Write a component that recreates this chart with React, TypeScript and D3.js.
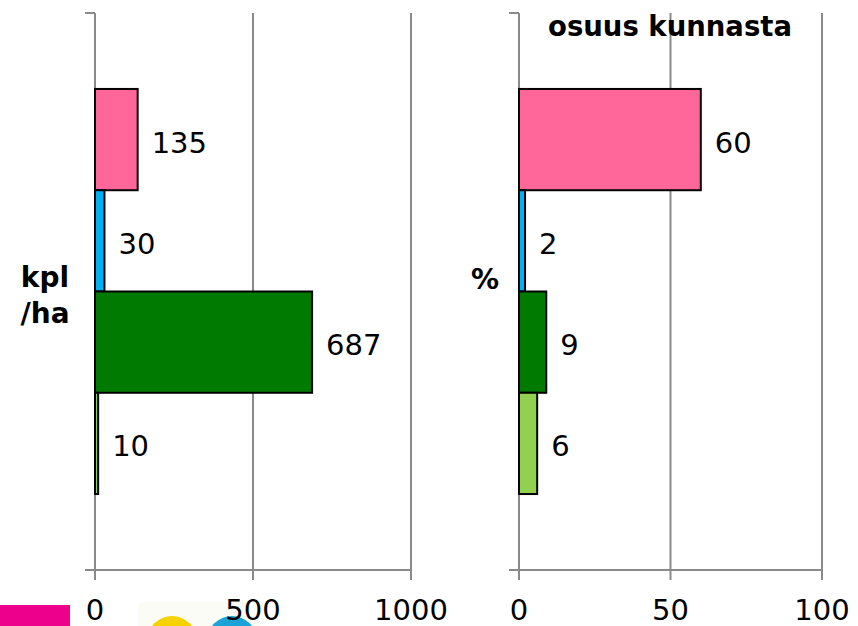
import * as d3 from 'd3';

const series = ['pink', 'blue', 'green', 'lightgreen'];
const seriesColors = ['#ff6699', '#00b0f0', '#007a00', '#92d050'];
const perHectare = [135, 30, 687, 10];
const shareOfMunicipality = [60, 2, 9, 6];
const perHectareTicks = [0, 500, 1000];
const shareTicks = [0, 50, 100];

const W = 858;
const H = 626;
const TOP = 13;
const BOTTOM = 570;
const AXIS = '#8a8a8a';
const FONT = '"DejaVu Sans", Verdana, sans-serif';

const yBand = d3.scaleBand<string>().domain(series).range([TOP, BOTTOM]).paddingInner(0).paddingOuter(0.75);

interface PanelProps {
  values: number[];
  ticks: number[];
  domain: [number, number];
  x0: number;
  x1: number;
}

function Panel({ values, ticks, domain, x0, x1 }: PanelProps) {
  const x = d3.scaleLinear().domain(domain).range([x0, x1]);
  return (
    <g>
      {/* gridlines */}
      {ticks.slice(1).map(t => (
        <line key={'g' + t} x1={x(t)} x2={x(t)} y1={TOP} y2={BOTTOM} stroke={AXIS} strokeWidth={2} />
      ))}
      {/* category axis */}
      <line x1={x0} x2={x0} y1={TOP} y2={BOTTOM} stroke={AXIS} strokeWidth={2} />
      <line x1={x0 - 10} x2={x0} y1={TOP} y2={TOP} stroke={AXIS} strokeWidth={2} />
      {/* value axis */}
      <line x1={x0 - 10} x2={x1} y1={BOTTOM} y2={BOTTOM} stroke={AXIS} strokeWidth={2} />
      {ticks.map(t => (
        <g key={'t' + t}>
          <line x1={x(t)} x2={x(t)} y1={BOTTOM} y2={BOTTOM + 10} stroke={AXIS} strokeWidth={2} />
          <text x={x(t)} y={BOTTOM + 50} textAnchor="middle" fontSize={29} fontFamily={FONT} fill="#000">
            {t}
          </text>
        </g>
      ))}
      {/* bars */}
      {series.map((s, i) => (
        <g key={s}>
          <rect
            x={x(0)}
            y={yBand(s)!}
            width={Math.max(x(values[i]) - x(0), 0)}
            height={yBand.bandwidth()}
            fill={seriesColors[i]}
            stroke="#000"
            strokeWidth={2}
          />
          <text
            x={x(values[i]) + 14}
            y={yBand(s)! + yBand.bandwidth() / 2 + 3}
            dominantBaseline="central"
            fontSize={29}
            fontFamily={FONT}
            fill="#000"
          >
            {values[i]}
          </text>
        </g>
      ))}
    </g>
  );
}

export default function App() {
  return (
    <svg
      width={W}
      height={H}
      style={{ position: 'absolute', left: 0, top: 0, background: '#fff' }}
    >
      <rect width={W} height={H} fill="#fff" />
      {/* decorations at bottom left */}
      <rect x={0} y={605} width={70} height={30} fill="#ec008c" />
      <rect x={138} y={602} width={122} height={30} fill="#fcfcf6" />
      <circle cx={172} cy={641} r={25} fill="#f6d200" />
      <circle cx={232} cy={641} r={25} fill="#1aa3d6" />

      <Panel values={perHectare} ticks={perHectareTicks} domain={[0, 1000]} x0={95} x1={411} />
      <Panel values={shareOfMunicipality} ticks={shareTicks} domain={[0, 100]} x0={519} x1={822} />

      <text x={45} y={287} textAnchor="middle" fontSize={28} fontWeight="bold" fontFamily={FONT}>kpl</text>
      <text x={45} y={323} textAnchor="middle" fontSize={28} fontWeight="bold" fontFamily={FONT}>/ha</text>
      <text x={485} y={289} textAnchor="middle" fontSize={28} fontWeight="bold" fontFamily={FONT}>%</text>
      <text x={670} y={36} textAnchor="middle" fontSize={27.5} fontWeight="bold" fontFamily={FONT}>osuus kunnasta</text>
    </svg>
  );
}
